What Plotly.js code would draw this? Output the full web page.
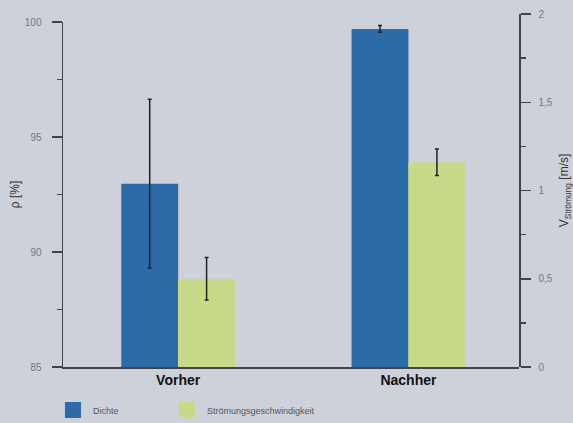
<!DOCTYPE html>
<html>
<head>
<meta charset="utf-8">
<script src="https://cdn.plot.ly/plotly-3.0.1.min.js"></script>
<style>html,body{margin:0;padding:0;background:#cdd1da;}#chart{width:573px;height:423px;}</style>
</head>
<body>
<div id="chart"></div>
<script>
var categories = ["Vorher", "Nachher"];
var dichte = [92.97, 99.7];
var dichteErr = [3.67, 0.15];
var stroemung = [0.5, 1.16];
var stroemungErr = [0.12, 0.075];
var seriesNames = ["Dichte", "Strömungsgeschwindigkeit"];
var leftTicks = [85, 90, 95, 100];
var rightTickVals = [0, 0.5, 1, 1.5, 2];
var rightTickText = ["0", "0,5", "1", "1,5", "2"];

var blue = "#2c6aa8", green = "#c6da8a", axisCol = "#444";
var fam = "Liberation Sans, Arial, sans-serif";
var tickFont = {family: fam, size: 10, color: "#777"};
var legFont = {family: fam, size: 9, color: "#555"};

var traces = [
  {type: "bar", name: seriesNames[0], x: categories, y: dichte, xaxis: "x", yaxis: "y",
   width: 0.247, offset: -0.247, marker: {color: blue}, showlegend: false,
   error_y: {type: "data", array: dichteErr, visible: true, color: "#222", thickness: 1.5, width: 2}},
  {type: "bar", name: seriesNames[1], x: categories, y: stroemung, xaxis: "x", yaxis: "y2",
   width: 0.247, offset: 0, marker: {color: green}, showlegend: false,
   error_y: {type: "data", array: stroemungErr, visible: true, color: "#222", thickness: 1.5, width: 2}},
  {type: "scatter", mode: "markers", name: seriesNames[0], x: [null], y: [null], xaxis: "x", yaxis: "y",
   marker: {symbol: "square", size: 16, color: blue}, showlegend: true, legend: "legend", hoverinfo: "skip"},
  {type: "scatter", mode: "markers", name: seriesNames[1], x: [null], y: [null], xaxis: "x", yaxis: "y",
   marker: {symbol: "square", size: 16, color: green}, showlegend: true, legend: "legend2", hoverinfo: "skip"}
];

var layout = {
  width: 573, height: 423,
  margin: {l: 63, r: 54, t: 14, b: 56, autoexpand: false},
  paper_bgcolor: "#cdd1da", plot_bgcolor: "rgba(0,0,0,0)",
  showlegend: true,
  legend: {orientation: "h", x: -0.022, xanchor: "left", y: -0.122, yanchor: "middle",
           font: legFont, bgcolor: "rgba(0,0,0,0)"},
  legend2: {orientation: "h", x: 0.228, xanchor: "left", y: -0.122, yanchor: "middle",
           font: legFont, bgcolor: "rgba(0,0,0,0)"},
  xaxis: {type: "category", range: [-0.5, 1.48], showgrid: false, zeroline: false,
          showline: true, linecolor: axisCol, linewidth: 1.5, ticks: "",
          tickfont: {family: fam, size: 14, color: "#111", weight: "bold"},
          anchor: "y"},
  yaxis: {range: [85, 100], domain: [0, 0.9773], showgrid: false, zeroline: false,
          showline: true, linecolor: axisCol, linewidth: 1.5,
          tickvals: leftTicks, ticks: "outside", ticklen: 10, tickcolor: axisCol, tickwidth: 1.5,
          ticklabelstandoff: 8, tickfont: tickFont,
          minor: {tickvals: [87.5, 92.5, 97.5], ticks: "outside", ticklen: 5, tickcolor: axisCol, tickwidth: 1.5},
          title: {text: "ρ [%]", standoff: 2, font: {family: fam, size: 12, color: "#333"}}},
  yaxis2: {range: [0, 2], domain: [0, 1], anchor: "x", side: "right", showgrid: false, zeroline: false,
           showline: true, linecolor: axisCol, linewidth: 1.5,
           tickvals: rightTickVals, ticktext: rightTickText, ticks: "outside", ticklen: 10, tickcolor: axisCol, tickwidth: 1.5,
           ticklabelstandoff: 6, tickfont: tickFont,
           minor: {tickvals: [0.25, 0.75, 1.25, 1.75], ticks: "outside", ticklen: 5, tickcolor: axisCol, tickwidth: 1.5},
           title: {text: "V<sub>Strömung</sub> [m/s]", standoff: 8, font: {family: fam, size: 12, color: "#333"}}}
};

Plotly.newPlot("chart", traces, layout, {displayModeBar: false, staticPlot: true});
</script>
</body>
</html>
